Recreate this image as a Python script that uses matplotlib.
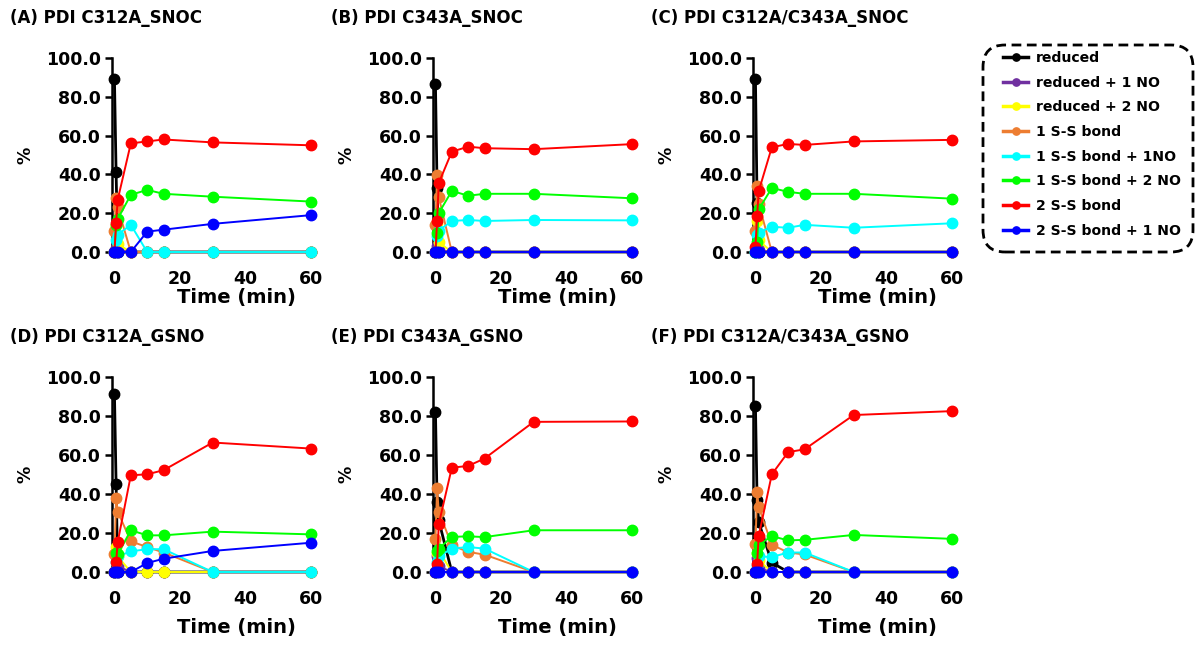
import numpy as np
import matplotlib
matplotlib.use("Agg")
import matplotlib.pyplot as plt
from matplotlib.patches import FancyBboxPatch
from matplotlib.transforms import IdentityTransform

plt.rcParams['font.family'] = ['DejaVu Sans']
plt.rcParams['font.weight'] = 'bold'

# time points (min)
times = [0, 0.5, 1, 5, 10, 15, 30, 60]

species = ["reduced", "reduced + 1 NO", "reduced + 2 NO", "1 S-S bond",
           "1 S-S bond + 1NO", "1 S-S bond + 2 NO", "2 S-S bond", "2 S-S bond + 1 NO"]
colors = ["#000000", "#7030A0", "#FFFF00", "#ED7D31",
          "#00FFFF", "#00FF00", "#FF0000", "#0000FF"]

titles = ["(A) PDI C312A_SNOC", "(B) PDI C343A_SNOC", "(C) PDI C312A/C343A_SNOC",
          "(D) PDI C312A_GSNO", "(E) PDI C343A_GSNO", "(F) PDI C312A/C343A_GSNO"]

# one list per species, in the order of `species`
panel_a = [
    [89, 41, 0, 0, 0, 0, 0, 0],
    [0, 2, 1, 0, 0, 0, 0, 0],
    [0, 14, 4, 0, 0, 0, 0, 0],
    [11, 28, 23, 0, 0, 0, 0, 0],
    [0, 6, 9, 14, 0, 0, 0, 0],
    [0, 14, 17, 29.5, 32, 30, 28.5, 26],
    [0, 15, 27, 56, 57, 58, 56.5, 55],
    [0, 0, 0, 0, 10.5, 11.5, 14.5, 19],
]
panel_b = [
    [86.5, 33, 0, 0, 0, 0, 0, 0],
    [0, 3, 1, 0, 0, 0, 0, 0],
    [0, 15, 5, 0, 0, 0, 0, 0],
    [14, 39.5, 28.5, 0, 0, 0, 0, 0],
    [0, 8.5, 11, 16, 16.5, 16, 16.5, 16.3],
    [0, 10, 20, 31.5, 29, 30, 30, 27.7],
    [0, 16, 35.5, 51.7, 54.3, 53.5, 53, 55.6],
    [0, 0, 0, 0, 0, 0, 0, 0],
]
panel_c = [
    [89, 25.5, 0, 0, 0, 0, 0, 0],
    [0, 3, 1, 0, 0, 0, 0, 0],
    [0, 16, 6, 0, 0, 0, 0, 0],
    [11, 34, 25, 0, 0, 0, 0, 0],
    [0, 9, 10, 13, 12.5, 14, 12.5, 14.8],
    [0, 5, 22, 33, 31, 30, 30, 27.5],
    [2.7, 18.7, 31.4, 54, 55.7, 55.2, 57, 57.8],
    [0, 0, 0, 0, 0, 0, 0, 0],
]
panel_d = [
    [91.2, 45.3, 0, 0, 0, 0, 0, 0],
    [0, 10, 3, 0, 0, 0, 0, 0],
    [0, 13, 8, 0, 0, 0, 0, 0],
    [9, 38, 31, 15.7, 12.8, 10, 0, 0],
    [0, 5, 8, 10.6, 11.7, 11.7, 0, 0],
    [0, 10, 9, 21.4, 18.8, 18.8, 20.7, 19.3],
    [0, 5, 15.4, 49.6, 50.1, 52.2, 66.4, 63.3],
    [0, 0, 0, 0, 4.6, 6.8, 10.8, 15],
]
panel_e = [
    [82, 36, 26.5, 0, 0, 0, 0, 0],
    [0, 8, 3, 0, 0, 0, 0, 0],
    [0, 10, 11, 0, 0, 0, 0, 0],
    [17, 43, 31, 13.7, 10.3, 8.9, 0, 0],
    [0, 5, 8, 12, 12.8, 12, 0, 0],
    [0, 10.6, 12, 18, 18.3, 17.9, 21.4, 21.4],
    [0, 4.3, 24.5, 53.5, 54.4, 58.2, 77, 77.2],
    [0, 0, 0, 0, 0, 0, 0, 0],
]
panel_f = [
    [85, 36.8, 25.6, 4.8, 0, 0, 0, 0],
    [0, 7, 2, 0, 0, 0, 0, 0],
    [0, 10, 6, 0, 0, 0, 0, 0],
    [14.5, 41, 33.3, 14, 10, 9, 0, 0],
    [0, 3, 8, 7.7, 10, 10, 0, 0],
    [0, 10, 14, 18.4, 16.2, 16.5, 19, 17],
    [0, 4.3, 18.5, 50.1, 61.5, 62.9, 80.5, 82.5],
    [0, 0, 0, 0, 0, 0, 0, 0],
]
panels = [panel_a, panel_b, panel_c, panel_d, panel_e, panel_f]

W, H = 1203, 649
fig = plt.figure(figsize=(W / 100, H / 100), dpi=100)

col_x = [112, 433, 753]          # left spine, px
row_y = [(58, 252), (377, 572)]  # (top, bottom), px
time_y = [297, 627]              # centre of "Time (min)", px
ax_w = 248

handles = None
for i, data in enumerate(panels):
    r, c = divmod(i, 3)
    top, bot = row_y[r]
    ah = bot - top
    ax = fig.add_axes([col_x[c] / W, 1 - bot / H, ax_w / W, ah / H])
    hs = []
    for k, vals in enumerate(data):
        lw = 2.0 if k == 0 else 1.4
        h, = ax.plot(times, vals, '-o', color=colors[k], lw=lw, ms=7.5,
                     label=species[k], clip_on=False, zorder=3 + k)
        hs.append(h)
    if handles is None:
        handles = hs
    ax.set_xlim(-0.75, 75)
    ax.set_ylim(0, 100)
    ax.set_xticks([0, 20, 40, 60])
    ax.set_yticks(np.arange(0, 101, 20))
    ax.set_yticklabels([f"{v:.1f}" for v in np.arange(0, 101, 20)])
    for s in ['top', 'right', 'bottom']:
        ax.spines[s].set_visible(False)
    ax.spines['left'].set_linewidth(1.8)
    ax.tick_params(axis='y', direction='out', length=5, width=1.8, labelsize=12.5, pad=3)
    ax.tick_params(axis='x', length=0, labelsize=12.5, pad=13)
    for lab in ax.get_xticklabels() + ax.get_yticklabels():
        lab.set_fontweight('bold')
    ax.set_xlabel("Time (min)", fontsize=14, fontweight='bold', va='center')
    ax.xaxis.set_label_coords(0.5, (bot - time_y[r]) / ah)
    ax.set_ylabel("%", fontsize=12.5, fontweight='bold', va='center')
    ax.yaxis.set_label_coords((25 - 112) / ax_w, 0.5)
    fig.text((col_x[c] - 102) / W, 1 - (top - 40) / H, titles[i],
             fontsize=12, fontweight='bold', va='center', ha='left')

# legend without its own frame; dashed rounded box drawn separately
leg = fig.legend(handles=handles, loc='upper left',
                 bbox_to_anchor=(1003 / W, 1 - 51 / H),
                 fontsize=10.1, frameon=False,
                 handlelength=1.8, handletextpad=0.55, labelspacing=0.76,
                 markerscale=0.7, borderpad=0, borderaxespad=0)
for t in leg.get_texts():
    t.set_fontweight('bold')
for lh in leg.legend_handles:
    lh.set_linewidth(2.5)

box = FancyBboxPatch((983, H - 252), 210, 207,
                     boxstyle='round,pad=0,rounding_size=22',
                     transform=IdentityTransform(), fill=False,
                     edgecolor='black', linewidth=2, linestyle=(0, (3.5, 2)))
fig.add_artist(box)

fig.savefig("out.png", dpi=100)
